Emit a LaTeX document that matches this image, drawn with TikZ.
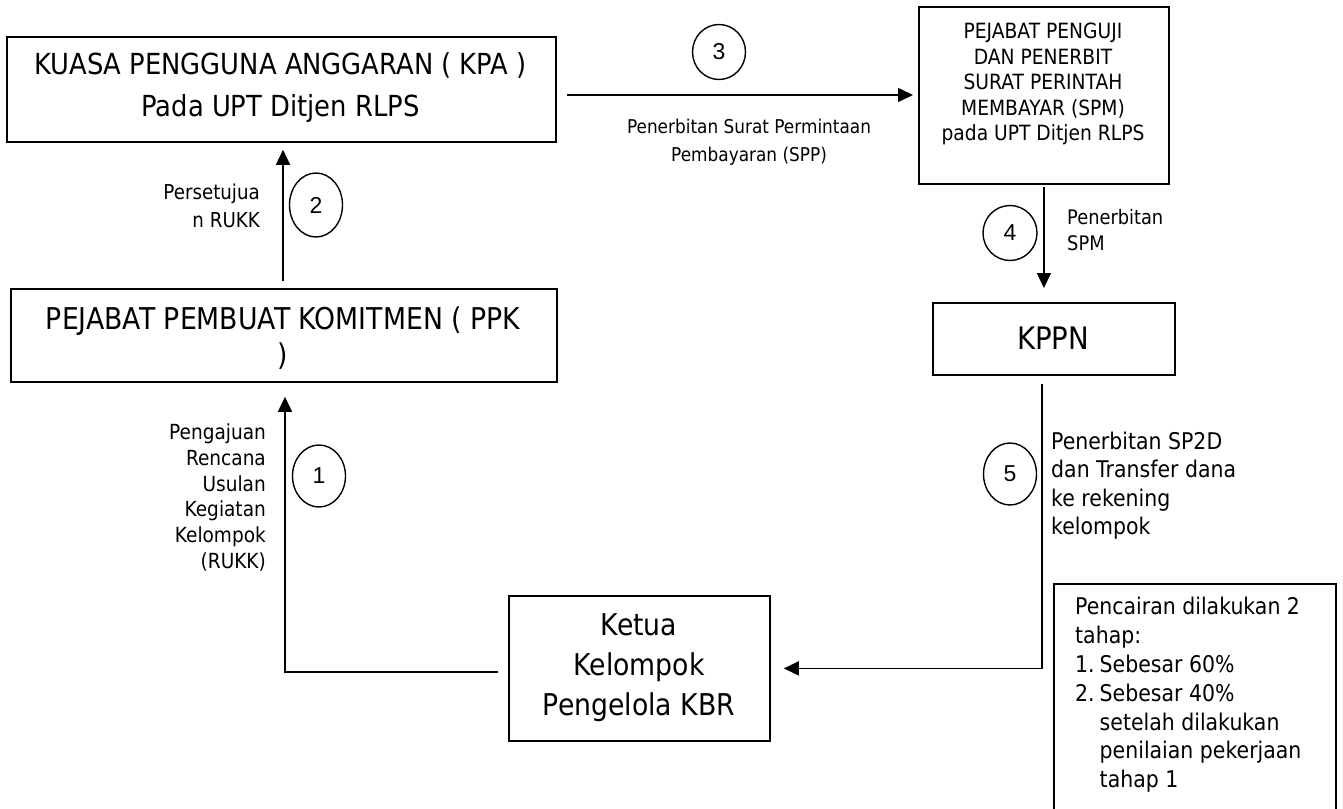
\documentclass[tikz,border=0pt]{standalone}
\usepackage{fontspec}
\setmainfont{DejaVu Sans}[FakeStretch=0.89]
\newfontfamily\numfont{Liberation Sans}
\usetikzlibrary{arrows.meta,shapes.geometric}
\begin{document}
\begin{tikzpicture}[x=1pt,y=-1pt,
  box/.style={draw, line width=1.8pt, inner sep=0pt, anchor=north west},
  txt/.style={inner sep=0pt, align=center},
  num/.style={draw, ellipse, line width=1.4pt, inner sep=0pt, font=\numfont\fontsize{23}{23}\selectfont},
  arr/.style={line width=1.6pt, -{Triangle[length=15pt,width=14pt]}}]
\useasboundingbox (0,0) rectangle (1343,808);

% boxes
\node[box, minimum width=549pt, minimum height=105pt] (kpa) at (6,36) {};
\node[box, minimum width=546pt, minimum height=93pt] (ppk) at (10,288) {};
\node[box, minimum width=250pt, minimum height=177pt] (spm) at (918,6) {};
\node[box, minimum width=242pt, minimum height=72pt] (kppn) at (932,302) {};
\node[box, minimum width=261pt, minimum height=145pt] (ketua) at (508,595) {};
\begin{scope}
\clip (0,0) rectangle (1343,808);
\node[box, minimum width=282pt, minimum height=240pt] (cair) at (1053,583) {};
\end{scope}

% box texts
\node[txt, font=\fontsize{29}{42}\selectfont] (kpat) at (280.5,88) {KUASA PENGGUNA ANGGARAN ( KPA )\\Pada UPT Ditjen RLPS};
\node[txt, font=\fontsize{30}{36}\selectfont] (ppkt) at (283,338) {PEJABAT PEMBUAT KOMITMEN ( PPK\\)};
\node[txt, font=\fontsize{21}{25.5}\selectfont] (spmt) at (1043,84) {PEJABAT PENGUJI\\DAN PENERBIT\\SURAT PERINTAH\\MEMBAYAR (SPM)\\pada UPT Ditjen RLPS};
\node[txt, font=\fontsize{31}{36}\selectfont] (kppnt) at (1053,338) {KPPN};
\node[txt, font=\fontsize{30}{40}\selectfont] (ketuat) at (639,668) {Ketua\\Kelompok\\Pengelola KBR};
\node[txt, anchor=west, align=left, font=\fontsize{23}{28.8}\selectfont] (cairt) at (1075,695.5) {\begin{tabular}{@{}l@{\hspace{5pt}}l@{}}\multicolumn{2}{@{}l@{}}{Pencairan dilakukan 2}\\ \multicolumn{2}{@{}l@{}}{tahap:}\\ 1. & Sebesar 60\%\\ 2. & Sebesar 40\%\\ & setelah dilakukan\\ & penilaian pekerjaan\\ & tahap 1\end{tabular}};

% connector labels
\node[txt, anchor=east, align=right, font=\fontsize{20.5}{28}\selectfont] (l2) at (260,206) {Persetujua\\n RUKK};
\node[txt, anchor=east, align=right, font=\fontsize{20.8}{25.8}\selectfont] (l1) at (266,497.5) {Pengajuan\\Rencana\\Usulan\\Kegiatan\\Kelompok\\(RUKK)};
\node[txt, font=\fontsize{19}{28}\selectfont] (l3) at (749,142) {Penerbitan Surat Permintaan\\Pembayaran (SPP)};
\node[txt, anchor=west, align=left, font=\fontsize{20}{26}\selectfont] (l4) at (1067,230) {Penerbitan\\SPM};
\node[txt, anchor=west, align=left, font=\fontsize{23}{28.5}\selectfont] (l5) at (1051,485.5) {Penerbitan SP2D\\dan Transfer dana\\ke rekening\\kelompok};

% step numbers
\node[num, minimum width=53pt, minimum height=62pt] (c1) at (319,476) {1};
\node[num, minimum width=53pt, minimum height=64pt] (c2) at (316,205) {2};
\node[num, minimum width=53pt, minimum height=55pt] (c3) at (719,52) {3};
\node[num, minimum width=54pt, minimum height=55pt] (c4) at (1010,233) {4};
\node[num, minimum width=53pt, minimum height=62pt] (c5) at (1010,474) {5};

% connectors
\coordinate (y3) at (0,95);
\draw[arr, shorten <=10pt, shorten >=5pt] (kpa.east |- y3) -- (spm.west |- y3);
\coordinate (x2) at (283,0);
\draw[arr, shorten <=7pt, shorten >=7pt] (ppk.north -| x2) -- (kpa.south -| x2);
\coordinate (x1) at (285,0);
\coordinate (y1) at (0,672);
\draw[arr, shorten <=10pt, shorten >=14pt] (ketua.west |- y1) -| (ppk.south -| x1);
\draw[arr, shorten <=2pt, shorten >=14pt] (spm.south) -- (kppn.north -| spm.south);
\coordinate (x5) at (1042,0);
\draw[arr, shorten <=8pt, shorten >=13pt] (kppn.south -| x5) |- (ketua.east);
\end{tikzpicture}
\end{document}
